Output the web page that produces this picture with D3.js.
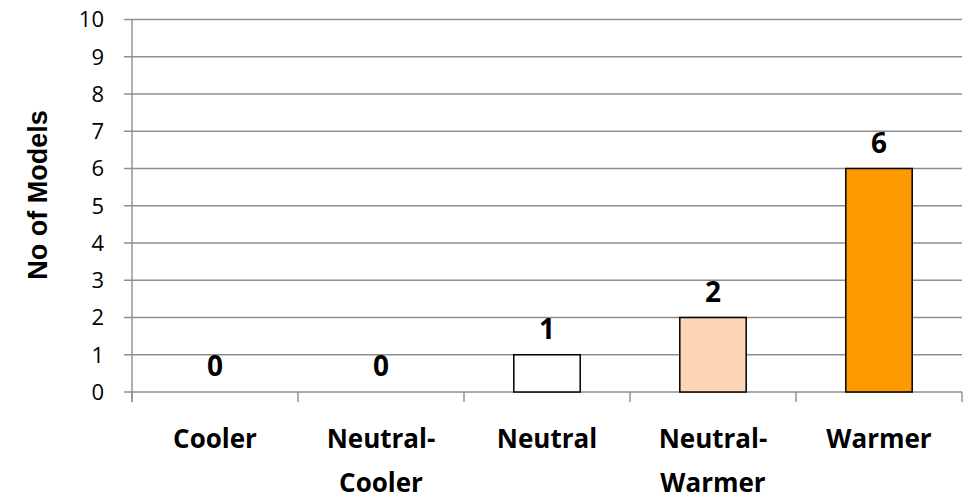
<!DOCTYPE html>
<html>
<head>
<meta charset="utf-8">
<script src="https://cdn.jsdelivr.net/npm/d3@7"></script>
<style>
  body { margin: 0; background: #fff; }
  text { font-family: "Open Sans", sans-serif; fill: #000; }
</style>
</head>
<body>
<svg width="974" height="504"></svg>
<script>
var categories = [["Cooler"], ["Neutral-", "Cooler"], ["Neutral"], ["Neutral-", "Warmer"], ["Warmer"]];
var values = [0, 0, 1, 2, 6];
var barColors = ["#ffffff", "#ffffff", "#ffffff", "#fbd5b5", "#ff9900"];
var yTicks = [0, 1, 2, 3, 4, 5, 6, 7, 8, 9, 10];
var yTitle = "No of Models";

var svg = d3.select("svg");
var padding = {top: 19.5, left: 132, right: 12, bottom: 112};
var width = +svg.attr("width"), height = +svg.attr("height");
var plotW = width - padding.left - padding.right;
var plotH = height - padding.top - padding.bottom;

var canvas = svg.append("g")
  .attr("transform", "translate(" + padding.left + "," + padding.top + ")");

var idx = d3.range(values.length);
var x = d3.scaleBand().domain(idx).range([0, plotW]).paddingInner(0.6).paddingOuter(0.3);
var y = d3.scaleLinear().domain([0, 10]).range([plotH, 0]);

// gridlines
canvas.selectAll("line.grid")
  .data(yTicks)
  .enter().append("line")
  .attr("class", "grid")
  .attr("x1", -8).attr("x2", plotW)
  .attr("y1", function(d){ return y(d); })
  .attr("y2", function(d){ return y(d); })
  .style("stroke", "#8e8e8e").style("stroke-width", 1.4);

// y axis line
canvas.append("line")
  .attr("x1", 0).attr("x2", 0).attr("y1", 0).attr("y2", plotH + 10)
  .style("stroke", "#8e8e8e").style("stroke-width", 1.4);

// category ticks
var step = x.step();
canvas.selectAll("line.ctick")
  .data(d3.range(values.length + 1))
  .enter().append("line")
  .attr("class", "ctick")
  .attr("x1", function(d){ return d * step; })
  .attr("x2", function(d){ return d * step; })
  .attr("y1", plotH).attr("y2", plotH + 10)
  .style("stroke", "#8e8e8e").style("stroke-width", 1.4);

// y tick labels
canvas.selectAll("text.ytick")
  .data(yTicks)
  .enter().append("text")
  .attr("class", "ytick")
  .attr("x", -28)
  .attr("y", function(d){ return y(d); })
  .attr("dy", "0.36em")
  .attr("text-anchor", "end")
  .style("font-size", "22px")
  .text(function(d){ return d; });

// bars (zero-height bars are not drawn)
canvas.selectAll("rect.bar")
  .data(idx.filter(function(i){ return values[i] > 0; }))
  .enter().append("rect")
  .attr("class", "bar")
  .attr("x", function(i){ return x(i); })
  .attr("width", x.bandwidth())
  .attr("y", function(i){ return y(values[i]); })
  .attr("height", function(i){ return plotH - y(values[i]); })
  .style("fill", function(i){ return barColors[i]; })
  .style("stroke", "#000").style("stroke-width", 1.5);

// value labels
canvas.selectAll("text.val")
  .data(idx)
  .enter().append("text")
  .attr("class", "val")
  .attr("x", function(i){ return x(i) + x.bandwidth() / 2; })
  .attr("y", function(i){ return y(values[i]) - 16; })
  .attr("text-anchor", "middle")
  .style("font-size", "28px").style("font-weight", "bold")
  .text(function(i){ return values[i]; });

// category labels
var cl = canvas.selectAll("text.cat")
  .data(categories)
  .enter().append("text")
  .attr("class", "cat")
  .attr("x", function(d, i){ return x(i) + x.bandwidth() / 2; })
  .attr("y", plotH + 55.5)
  .attr("text-anchor", "middle")
  .style("font-size", "26px").style("font-weight", "bold");
cl.selectAll("tspan")
  .data(function(d){ return d; })
  .enter().append("tspan")
  .attr("x", function(){ return d3.select(this.parentNode).attr("x"); })
  .attr("dy", function(d, i){ return i === 0 ? 0 : 44; })
  .text(function(d){ return d; });

// y title
svg.append("text")
  .attr("transform", "translate(47,195) rotate(-90)")
  .attr("text-anchor", "middle")
  .style("font-family", "'Liberation Sans', Arial, sans-serif")
  .style("font-size", "27px").style("font-weight", "bold")
  .text(yTitle);
</script>
</body>
</html>
